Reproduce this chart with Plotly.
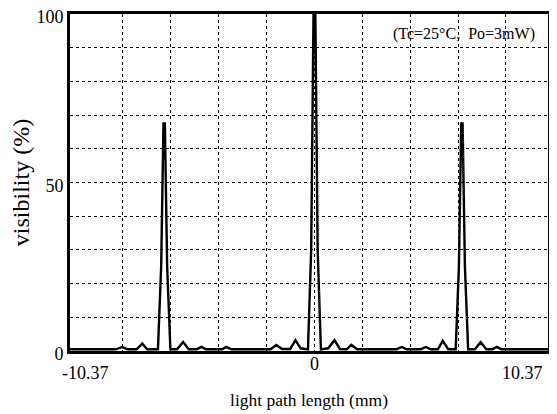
import plotly.graph_objects as go

# light path length (mm) and visibility (%)
path_mm = [-10.59, -8.6, -8.33, -8.1, -7.7, -7.46, -7.25,
           -6.78, -6.64, -6.54, -6.48, -6.38, -6.24,
           -5.95, -5.69, -5.45, -5.1, -4.9, -4.7, -4.0, -3.82, -3.6,
           -1.9, -1.65, -1.4, -1.05, -0.82, -0.6,
           -0.28, -0.14, -0.04, 0.04, 0.14, 0.28,
           0.6, 0.87, 1.1, 1.4, 1.6, 1.85,
           3.55, 3.78, 4.0, 4.6, 4.82, 5.05,
           5.35, 5.56, 5.8,
           6.12, 6.26, 6.36, 6.42, 6.52, 6.66,
           6.95, 7.2, 7.45, 7.7, 7.9, 8.1, 10.12]
visibility = [0.5, 0.5, 1.2, 0.5, 0.5, 2.2, 0.5,
              0.5, 25, 67.5, 67.5, 25, 0.5,
              0.5, 2.7, 0.5, 0.5, 1.2, 0.5, 0.5, 1.2, 0.5,
              0.5, 1.8, 0.6, 0.6, 3.2, 0.8,
              0.5, 30, 100, 100, 30, 0.5,
              0.8, 3.2, 0.6, 0.5, 1.8, 0.5,
              0.5, 1.2, 0.5, 0.5, 1.2, 0.5,
              0.5, 3.0, 0.5,
              0.5, 25, 67.5, 67.5, 25, 0.5,
              0.5, 2.6, 0.5, 0.5, 1.2, 0.5, 0.5]

# visible frame of the original chart (the grid is laid on 2.074 mm steps)
x_range = [-10.59, 10.12]
x_grid = [-8.296, -6.222, -4.148, -2.074, 0, 2.074, 4.148, 6.222, 8.296]
x_grid_labels = ["", "", "", "", "0", "", "", "", ""]
x_edge_labels = ["-10.37", "10.37"]
y_grid = [0, 10, 20, 30, 40, 50, 60, 70, 80, 90, 100]
y_labels = ["0", "", "", "", "", "50", "", "", "", "", "100"]

serif = "Liberation Serif"

fig = go.Figure()
fig.add_trace(go.Scatter(x=path_mm, y=visibility, mode="lines",
                         line=dict(color="black", width=2.4), showlegend=False))

annotations = [dict(text="(Tc=25°C,  Po=3mW)", xref="paper", yref="paper",
                    x=0.977, y=0.94, xanchor="right", yanchor="middle",
                    showarrow=False, font=dict(family=serif, size=16, color="black"))]
for px, txt, anchor, shift in [(0, x_edge_labels[0], "left", -10),
                               (1, x_edge_labels[1], "right", -3)]:
    annotations.append(dict(text=txt, x=px, xref="paper", y=0, yref="paper",
                            xanchor=anchor, yanchor="top", xshift=shift, yshift=-10,
                            showarrow=False, font=dict(family=serif, size=18, color="black")))

# page body adds an 8 px offset, so the figure is sized to fit the window
fig.update_layout(
    width=549, height=406,
    margin=dict(l=62, r=9, t=6, b=63),
    paper_bgcolor="white", plot_bgcolor="white",
    font=dict(family=serif, size=17, color="black"),
    xaxis=dict(range=x_range, tickmode="array", tickvals=x_grid, ticktext=x_grid_labels,
               showgrid=True, gridcolor="black", griddash="dot", gridwidth=1,
               showline=True, linecolor="black", linewidth=3, mirror=True,
               ticks="", zeroline=False, automargin=False, ticklabelstandoff=-6,
               ticklabeloverflow="allow",
               tickfont=dict(family=serif, size=18),
               title=dict(text="light path length (mm)", standoff=22,
                          font=dict(family=serif, size=17.5))),
    yaxis=dict(range=[0, 100], tickmode="array", tickvals=y_grid, ticktext=y_labels,
               showgrid=True, gridcolor="black", griddash="dot", gridwidth=1,
               showline=True, linecolor="black", linewidth=3, mirror=True,
               ticks="", zeroline=False, automargin=False, ticklabelstandoff=0,
               ticklabeloverflow="allow", ticklabelshift=3,
               tickfont=dict(family=serif, size=18),
               title=dict(text="visibility (%)", standoff=11,
                          font=dict(family=serif, size=24))),
    annotations=annotations,
)

fig.write_html("out.html")
